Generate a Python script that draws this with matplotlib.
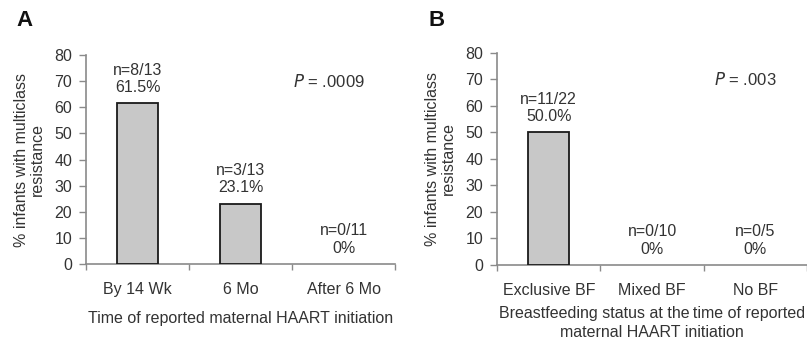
import matplotlib
matplotlib.use("Agg")
import matplotlib.pyplot as plt

plt.rcParams['font.family'] = ['Liberation Sans', 'DejaVu Sans']

cats_a = ["By 14 Wk", "6 Mo", "After 6 Mo"]
vals_a = [61.5, 23.1, 0.0]
ann_a = ["n=8/13\n61.5%", "n=3/13\n23.1%", "n=0/11\n0%"]
p_a = ".0009"
xlabel_a = "Time of reported maternal HAART initiation"

cats_b = ["Exclusive BF", "Mixed BF", "No BF"]
vals_b = [50.0, 0.0, 0.0]
ann_b = ["n=11/22\n50.0%", "n=0/10\n0%", "n=0/5\n0%"]
p_b = ".003"
xlabel_b = "Breastfeeding status at the\u2009time of reported\nmaternal HAART initiation"

yticks = [0, 10, 20, 30, 40, 50, 60, 70, 80]
ylabel = "% infants with multiclass\nresistance"

fig = plt.figure(figsize=(8.07, 3.44), dpi=100)
ax_a = fig.add_axes([0.1066, 0.2326, 0.383, 0.607])
ax_b = fig.add_axes([0.616, 0.2297, 0.384, 0.617])

gray = "#8a8a8a"
tc = "#333333"
fs = 11.5

def draw(ax, cats, vals, anns, p, xlabel, px, xlpad):
    x = list(range(len(cats)))
    lws = [1.3 if v > 0 else 0 for v in vals]
    ax.bar(x, vals, width=0.4, color="#c8c8c8", edgecolor="#1a1a1a", linewidth=lws, zorder=3)
    for xi, v, a in zip(x, vals, anns):
        ax.annotate(a, (xi, v), xytext=(0, 6), textcoords="offset points",
                    ha="center", va="bottom", fontsize=fs, color=tc, linespacing=1.2)
    ax.set_xlim(-0.5, 2.5)
    ax.set_ylim(0, 80)
    ax.set_yticks(yticks)
    ax.set_xticks(x)
    ax.set_xticklabels(cats, fontsize=fs, color=tc)
    ax.set_xticks([-0.5, 0.5, 1.5, 2.5], minor=True)
    ax.tick_params(axis='x', which='major', length=0, pad=13)
    ax.tick_params(axis='x', which='minor', length=4, color=gray, width=1)
    ax.tick_params(axis='y', length=5, color=gray, width=1, labelsize=fs, labelcolor=tc, pad=5)
    for s in ["top", "right"]:
        ax.spines[s].set_visible(False)
    for s in ["left", "bottom"]:
        ax.spines[s].set_color(gray)
        ax.spines[s].set_linewidth(1.2)
    ax.set_ylabel(ylabel, fontsize=fs, color=tc, linespacing=1.05, labelpad=7)
    ax.set_xlabel(xlabel, fontsize=fs, color=tc, labelpad=xlpad, linespacing=1.3)
    ax.text(px, 70, "$\\it{P}$ = " + p, fontsize=12, color=tc, va="center", ha="left")

draw(ax_a, cats_a, vals_a, ann_a, p_a, xlabel_a, 1.51, 10)
draw(ax_b, cats_b, vals_b, ann_b, p_b, xlabel_b, 1.6, 6)

fig.text(16 / 807, 1 - 20 / 344, "A", fontsize=16, fontweight="bold", color="#111111",
         va="center", ha="left")
fig.text(428 / 807, 1 - 20 / 344, "B", fontsize=16, fontweight="bold", color="#111111",
         va="center", ha="left")

fig.savefig("out.png", dpi=100)
